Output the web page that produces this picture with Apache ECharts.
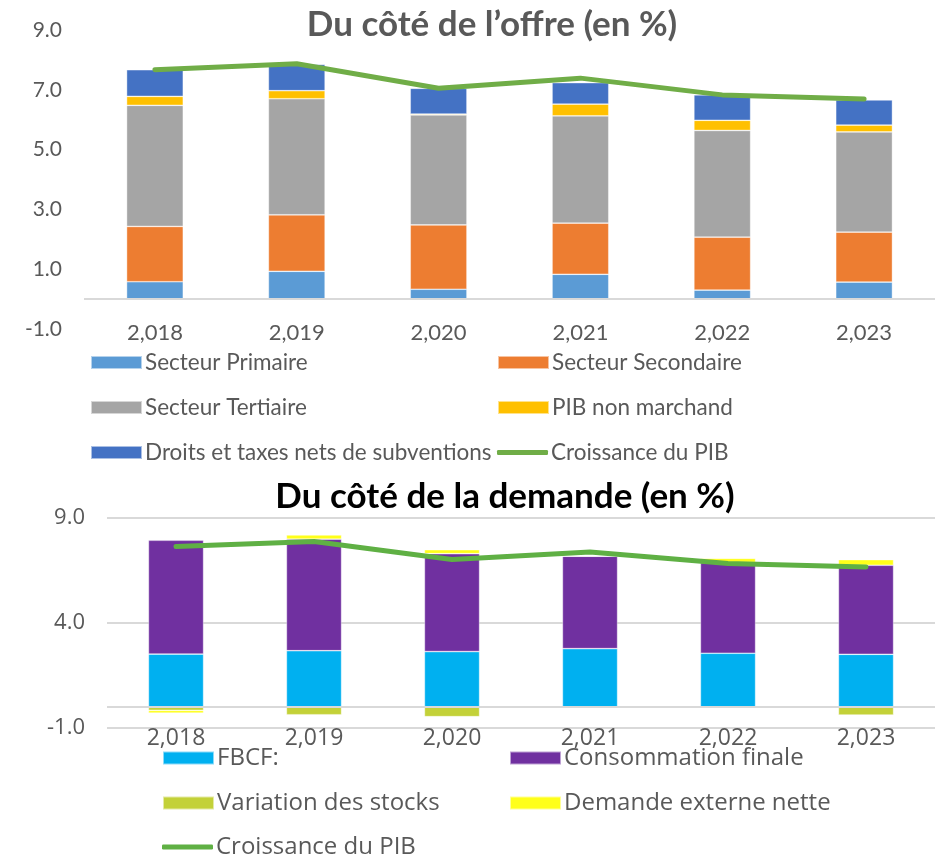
<!DOCTYPE html>
<html>
<head>
<meta charset="utf-8">
<script src="https://cdn.jsdelivr.net/npm/echarts@6/dist/echarts.min.js"></script>
<style>
  html, body { margin: 0; padding: 0; background: #fff; }
  #chart { width: 935px; height: 855px; }
</style>
</head>
<body>
<div id="chart"></div>
<script>
// années (libellés de l'axe x tels qu'affichés)
const years = ['2,018', '2,019', '2,020', '2,021', '2,022', '2,023'];

// Du côté de l'offre
const primaire = [0.58, 0.93, 0.33, 0.83, 0.30, 0.57];
const secondaire = [1.85, 1.89, 2.15, 1.71, 1.77, 1.67];
const tertiaire = [4.05, 3.88, 3.68, 3.59, 3.57, 3.35];
const nonMarchand = [0.30, 0.27, 0.03, 0.39, 0.34, 0.23];
const droits = [0.89, 0.88, 0.86, 0.72, 0.85, 0.84];
const croissanceOffre = [7.67, 7.87, 7.05, 7.39, 6.83, 6.69];

// Du côté de la demande
const fbcf = [2.52, 2.68, 2.64, 2.78, 2.56, 2.51];
const conso = [5.42, 5.31, 4.66, 4.40, 4.32, 4.24];
const stocks = [-0.16, -0.37, -0.46, 0, 0, -0.38];
const demandeExt = [-0.13, 0.20, 0.19, 0, 0.20, 0.27];
const croissanceDemande = [7.64, 7.88, 7.02, 7.38, 6.83, 6.67];

const GRAY = '#595959';
const FONT_TOP = 'Lato';
const FONT_BOT = 'Open Sans';

let myChart = echarts.init(document.getElementById('chart'), null, { renderer: 'canvas' });

// une légende par entrée, pour placer les deux colonnes comme dans l'original
function leg(name, left, top, color, font, size, isLine) {
  return {
    left: left, top: top,
    itemWidth: 51, itemHeight: isLine ? 5 : 13,
    itemGap: 0,
    selectedMode: false,
    textStyle: { color: GRAY, fontSize: size, fontFamily: font, padding: [0, 0, 0, -2] },
    data: [{ name: name, icon: isLine ? 'roundRect' : 'rect', itemStyle: { color: color } }]
  };
}

function barSeries(name, data, color, idx) {
  return {
    name: name, type: 'bar', stack: 'tot' + idx, data: data,
    xAxisIndex: idx, yAxisIndex: idx,
    barWidth: '40%',
    itemStyle: { color: color, borderColor: 'rgba(255,255,255,0.55)', borderWidth: 0.7 }
  };
}

function zeroLine() {
  return {
    silent: true, symbol: 'none', label: { show: false },
    lineStyle: { color: '#d9d9d9', width: 2, type: 'solid' },
    data: [{ yAxis: 0 }]
  };
}

let s1 = barSeries('Secteur Primaire', primaire, '#5B9BD5', 0);
s1.markLine = zeroLine();
let s6 = barSeries('FBCF:', fbcf, '#00B0F0', 1);
s6.markLine = zeroLine();

const options = {
  animation: false,
  title: [
    { text: 'Du côté de l’offre (en %)', left: 487, top: 2, textAlign: 'center',
      textStyle: { color: GRAY, fontSize: 35, fontWeight: 'bold', fontFamily: FONT_TOP } },
    { text: 'Du côté de la demande (en %)', left: 500, top: 474, textAlign: 'center',
      textStyle: { color: '#000', fontSize: 35, fontWeight: 'bold', fontFamily: FONT_TOP } }
  ],
  legend: [
    leg('Secteur Primaire', 85, 346, '#5B9BD5', FONT_TOP, 22.5),
    leg('Secteur Secondaire', 492, 346, '#ED7D31', FONT_TOP, 22.5),
    leg('Secteur Tertiaire', 85, 391, '#A5A5A5', FONT_TOP, 22.5),
    leg('PIB non marchand', 492, 391, '#FFC000', FONT_TOP, 22.5),
    leg('Droits et taxes nets de subventions', 85, 436, '#4472C4', FONT_TOP, 22.5),
    leg('Croissance du PIB', 492, 436, '#70AD47', FONT_TOP, 22.5, true),
    leg('FBCF:', 157, 741, '#00B0F0', FONT_BOT, 24),
    leg('Consommation finale', 504, 741, '#7030A0', FONT_BOT, 24),
    leg('Variation des stocks', 157, 786, '#C3D138', FONT_BOT, 24),
    leg('Demande externe nette', 504, 786, '#FFFF1A', FONT_BOT, 24),
    leg('Croissance du PIB', 157, 830, '#5FB044', FONT_BOT, 24, true)
  ],
  grid: [
    { left: 84, top: 30, width: 853, height: 299 },
    { left: 107, top: 518, width: 833, height: 210 }
  ],
  xAxis: [
    { type: 'category', gridIndex: 0, data: years,
      axisLine: { show: false }, axisTick: { show: false },
      axisLabel: { color: GRAY, fontSize: 22, fontFamily: FONT_TOP, margin: -7 } },
    { type: 'category', gridIndex: 1, data: years,
      axisLine: { show: false }, axisTick: { show: false },
      axisLabel: { color: GRAY, fontSize: 23, fontFamily: FONT_BOT, margin: -1 } }
  ],
  yAxis: [
    { type: 'value', gridIndex: 0, min: -1, max: 9, interval: 2,
      splitLine: { show: false }, axisLine: { show: false }, axisTick: { show: false },
      axisLabel: { color: GRAY, fontSize: 21, fontFamily: FONT_TOP, margin: 22,
        formatter: v => v.toFixed(1) } },
    { type: 'value', gridIndex: 1, min: -1, max: 9, interval: 5,
      splitLine: { show: true, lineStyle: { color: '#d9d9d9', width: 2 } },
      axisLine: { show: false }, axisTick: { show: false },
      axisLabel: { color: GRAY, fontSize: 22, fontFamily: FONT_BOT, margin: 22,
        formatter: v => v.toFixed(1) } }
  ],
  series: [
    s1,
    barSeries('Secteur Secondaire', secondaire, '#ED7D31', 0),
    barSeries('Secteur Tertiaire', tertiaire, '#A5A5A5', 0),
    barSeries('PIB non marchand', nonMarchand, '#FFC000', 0),
    barSeries('Droits et taxes nets de subventions', droits, '#4472C4', 0),
    { name: 'Croissance du PIB', type: 'line', data: croissanceOffre,
      xAxisIndex: 0, yAxisIndex: 0, symbol: 'none', z: 5,
      lineStyle: { color: '#70AD47', width: 5, cap: 'round', join: 'round' },
      itemStyle: { color: '#70AD47' } },
    s6,
    barSeries('Consommation finale', conso, '#7030A0', 1),
    barSeries('Variation des stocks', stocks, '#C3D138', 1),
    barSeries('Demande externe nette', demandeExt, '#FFFF1A', 1),
    { name: 'Croissance du PIB', type: 'line', data: croissanceDemande,
      xAxisIndex: 1, yAxisIndex: 1, symbol: 'none', z: 5,
      lineStyle: { color: '#5FB044', width: 5, cap: 'round', join: 'round' },
      itemStyle: { color: '#5FB044' } }
  ]
};

myChart.setOption(options, true);
</script>
</body>
</html>
